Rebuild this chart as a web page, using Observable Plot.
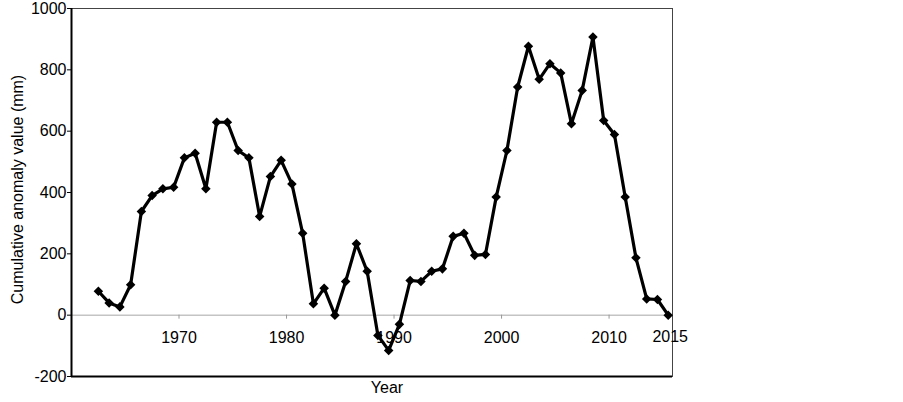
<!DOCTYPE html>
<html><head><meta charset="utf-8">
<script src="https://cdn.jsdelivr.net/npm/d3@7"></script>
<script src="https://cdn.jsdelivr.net/npm/@observablehq/plot@0.6"></script>
<style>body{margin:0;background:#fff}</style>
</head><body><div id="chart"></div>
<script>
const years = [1962,1963,1964,1965,1966,1967,1968,1969,1970,1971,
  1972,1973,1974,1975,1976,1977,1978,1979,1980,1981,
  1982,1983,1984,1985,1986,1987,1988,1989,1990,1991,
  1992,1993,1994,1995,1996,1997,1998,1999,2000,2001,
  2002,2003,2004,2005,2006,2007,2008,2009,2010,2011,
  2012,2013,2014,2015];
const values = [78,40,27,99,338,390,412,417,513,528,
  412,629,629,537,513,322,452,505,428,267,
  37,88,0,110,233,143,-66,-115,-30,113,
  110,143,151,257,267,195,198,385,537,744,
  877,769,820,790,624,733,907,635,589,385,
  187,53,51,0];
const xTicks = [1970,1980,1990,2000,2010];
const endLabel = "2015";
const yTicks = [-200,0,200,400,600,800,1000];
const xDomain = [1959.5, 2015.4];
const yDomain = [-200, 1000];
const yLabel = "Cumulative anomaly value (mm)";
const xLabel = "Year";

const data = years.map((year, i) => ({year, value: values[i]}));

const W = 903, H = 402, mT = 8, mB = 26, mL = 71, mR = 231;
const plotH = H - mT - mB;
const zeroDy = -(0 - yDomain[0]) / (yDomain[1] - yDomain[0]) * plotH;

const chart = Plot.plot({
  width: W, height: H,
  marginLeft: mL, marginRight: mR, marginTop: mT, marginBottom: mB,
  style: {fontFamily: "'Liberation Sans', Arial, sans-serif", fontSize: "16px", color: "black", background: "white", overflow: "visible"},
  x: {domain: xDomain},
  y: {domain: yDomain},
  marks: [
    Plot.frame({stroke: "#444"}),
    Plot.ruleY([0], {stroke: "#a6a6a6", strokeWidth: 1}),
    Plot.ruleX([xDomain[0]], {stroke: "black", strokeWidth: 2}),
    Plot.ruleY([yDomain[0]], {stroke: "black", strokeWidth: 2}),
    Plot.axisY({ticks: yTicks, tickFormat: d => String(d), tickSize: 4, tickPadding: 1, fontSize: 16, label: null}),
    Plot.text([yLabel], {frameAnchor: "left", textAnchor: "middle", dx: -54, dy: -3, rotate: -90, fontSize: 16, fill: "black"}),
    Plot.axisX({ticks: xTicks.map(t => t - 0.5), tickFormat: d => String(Math.round(d + 0.5)),
      tickSize: 4, tickPadding: 12, fontSize: 16, label: null, dy: zeroDy, stroke: "#999"}),
    Plot.text([endLabel], {x: years[years.length - 1], y: 0, dy: 22, dx: 2, fontSize: 16, fill: "black"}),
    Plot.text([xLabel], {frameAnchor: "bottom", dy: 16, dx: 15, fontSize: 16, fill: "black"}),
    Plot.line(data, {x: "year", y: "value", stroke: "black", strokeWidth: 3.2}),
    Plot.dot(data, {x: "year", y: "value", symbol: "diamond2", r: 4.3, fill: "black", stroke: "none"})
  ]
});
document.getElementById("chart").appendChild(chart);
</script>
</body></html>
